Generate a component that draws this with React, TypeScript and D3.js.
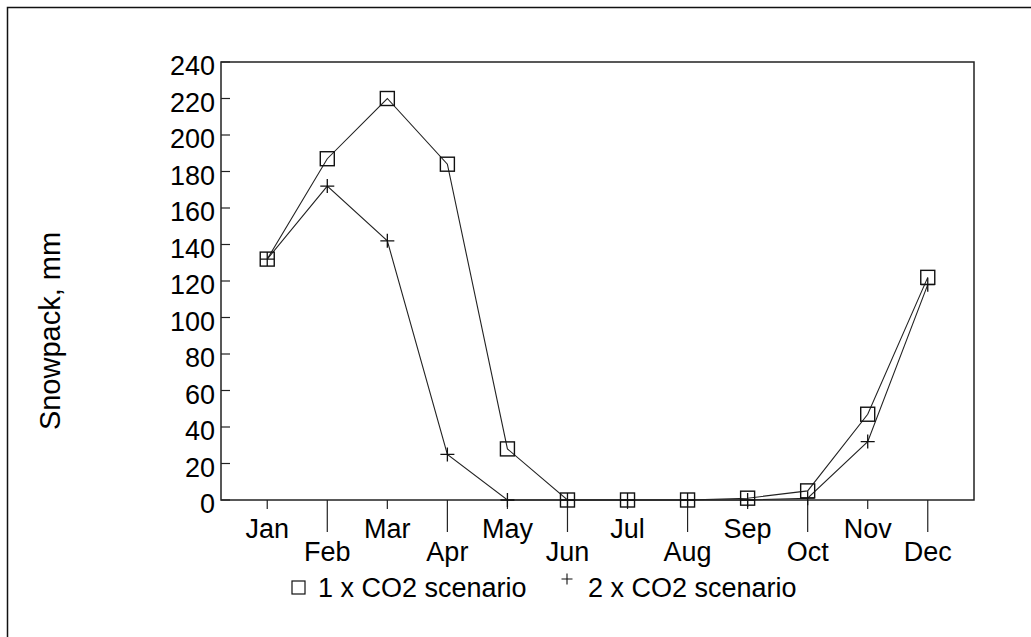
import React, { useEffect, useRef } from 'react';
import * as d3 from 'd3';

const months = ['Jan', 'Feb', 'Mar', 'Apr', 'May', 'Jun', 'Jul', 'Aug', 'Sep', 'Oct', 'Nov', 'Dec'];
const snow1x = [132, 187, 220, 184, 28, 0, 0, 0, 1, 5, 47, 122];
const snow2x = [132, 172, 142, 25, 0, 0, 0, 0, 0, 1, 32, 118];
const yTicks = [0, 20, 40, 60, 80, 100, 120, 140, 160, 180, 200, 220, 240];
const seriesNames = ['1 x CO2 scenario', '2 x CO2 scenario'];

function App() {
  const svgRef = useRef<SVGSVGElement>(null);

  useEffect(() => {
    const svg = d3.select(svgRef.current);
    svg.selectAll('*').remove();

    const font = "'Liberation Sans', Arial, sans-serif";
    const fs = '27px';
    const margin = { top: 62, left: 221, right: 974, bottom: 500 };

    // outer frame (runs off the picture on the right and bottom)
    svg.append('rect')
      .attr('x', 7.5).attr('y', 7.5)
      .attr('width', 1040).attr('height', 660)
      .attr('fill', 'none').attr('stroke', '#111').attr('stroke-width', 1.5);

    const x = d3.scalePoint<string>()
      .domain(months)
      .range([margin.left, margin.right])
      .padding(0.77);

    const y = d3.scaleLinear()
      .domain([0, 240])
      .range([margin.bottom, margin.top]);

    // plot box
    svg.append('rect')
      .attr('x', margin.left).attr('y', margin.top)
      .attr('width', margin.right - margin.left)
      .attr('height', margin.bottom - margin.top)
      .attr('fill', 'none').attr('stroke', '#222').attr('stroke-width', 1.5);

    // y axis ticks (inward) and labels
    const yAxis = svg.append('g');
    yAxis.selectAll('line')
      .data(yTicks)
      .enter()
      .append('line')
      .attr('x1', margin.left).attr('x2', margin.left + 9)
      .attr('y1', (d) => y(d)).attr('y2', (d) => y(d))
      .attr('stroke', '#222').attr('stroke-width', 1.2);
    yAxis.selectAll('text')
      .data(yTicks)
      .enter()
      .append('text')
      .attr('x', margin.left - 6)
      .attr('y', (d) => y(d) + 13)
      .attr('text-anchor', 'end')
      .style('font-family', font)
      .style('font-size', fs)
      .text((d) => d);

    // x axis ticks, alternating short/long, labels in two rows
    const xAxis = svg.append('g');
    xAxis.selectAll('line')
      .data(months)
      .enter()
      .append('line')
      .attr('x1', (d) => x(d)!).attr('x2', (d) => x(d)!)
      .attr('y1', margin.bottom)
      .attr('y2', (d, i) => margin.bottom + (i % 2 === 0 ? 9 : 32))
      .attr('stroke', '#222').attr('stroke-width', 1.2);
    xAxis.selectAll('text')
      .data(months)
      .enter()
      .append('text')
      .attr('x', (d) => x(d)!)
      .attr('y', (d, i) => (i % 2 === 0 ? 538 : 561))
      .attr('text-anchor', 'middle')
      .style('font-family', font)
      .style('font-size', fs)
      .text((d) => d);

    // y title
    svg.append('text')
      .attr('transform', 'translate(60, 331) rotate(-90)')
      .attr('text-anchor', 'middle')
      .style('font-family', font)
      .style('font-size', '29px')
      .text('Snowpack, mm');

    const line = d3.line<number>()
      .x((d, i) => x(months[i])!)
      .y((d) => y(d));

    svg.append('path')
      .datum(snow2x)
      .attr('d', line)
      .attr('fill', 'none').attr('stroke', '#222').attr('stroke-width', 1.1);
    svg.append('path')
      .datum(snow1x)
      .attr('d', line)
      .attr('fill', 'none').attr('stroke', '#222').attr('stroke-width', 1.1);

    const sq = 14;
    const plus = 14;

    // 1x markers: open squares
    svg.selectAll('.sq')
      .data(snow1x)
      .enter()
      .append('rect')
      .attr('class', 'sq')
      .attr('x', (d, i) => x(months[i])! - sq / 2)
      .attr('y', (d) => y(d) - sq / 2)
      .attr('width', sq).attr('height', sq)
      .attr('fill', 'none').attr('stroke', '#111').attr('stroke-width', 1.4);

    // 2x markers: plus signs
    const plusPath = (cx: number, cy: number, s: number) =>
      `M${cx - s / 2},${cy}H${cx + s / 2}M${cx},${cy - s / 2}V${cy + s / 2}`;
    svg.selectAll('.pl')
      .data(snow2x)
      .enter()
      .append('path')
      .attr('class', 'pl')
      .attr('d', (d, i) => plusPath(x(months[i])!, y(d), plus))
      .attr('fill', 'none').attr('stroke', '#111').attr('stroke-width', 1.3);

    // legend
    const legBase = 597;
    svg.append('rect')
      .attr('x', 292).attr('y', legBase - 16)
      .attr('width', 13).attr('height', 13)
      .attr('fill', 'none').attr('stroke', '#111').attr('stroke-width', 1.2);
    svg.append('text')
      .attr('x', 318).attr('y', legBase)
      .style('font-family', font).style('font-size', fs)
      .text(seriesNames[0]);
    svg.append('path')
      .attr('d', plusPath(567, legBase - 18, 11))
      .attr('stroke', '#111').attr('stroke-width', 1.1);
    svg.append('text')
      .attr('x', 588).attr('y', legBase)
      .style('font-family', font).style('font-size', fs)
      .text(seriesNames[1]);

    return () => { svg.selectAll('*').remove(); };
  }, []);

  return (
    <svg ref={svgRef} width={1031} height={637}
      style={{ position: 'absolute', left: 0, top: 0, background: '#fff' }} />
  );
}

export default App;
